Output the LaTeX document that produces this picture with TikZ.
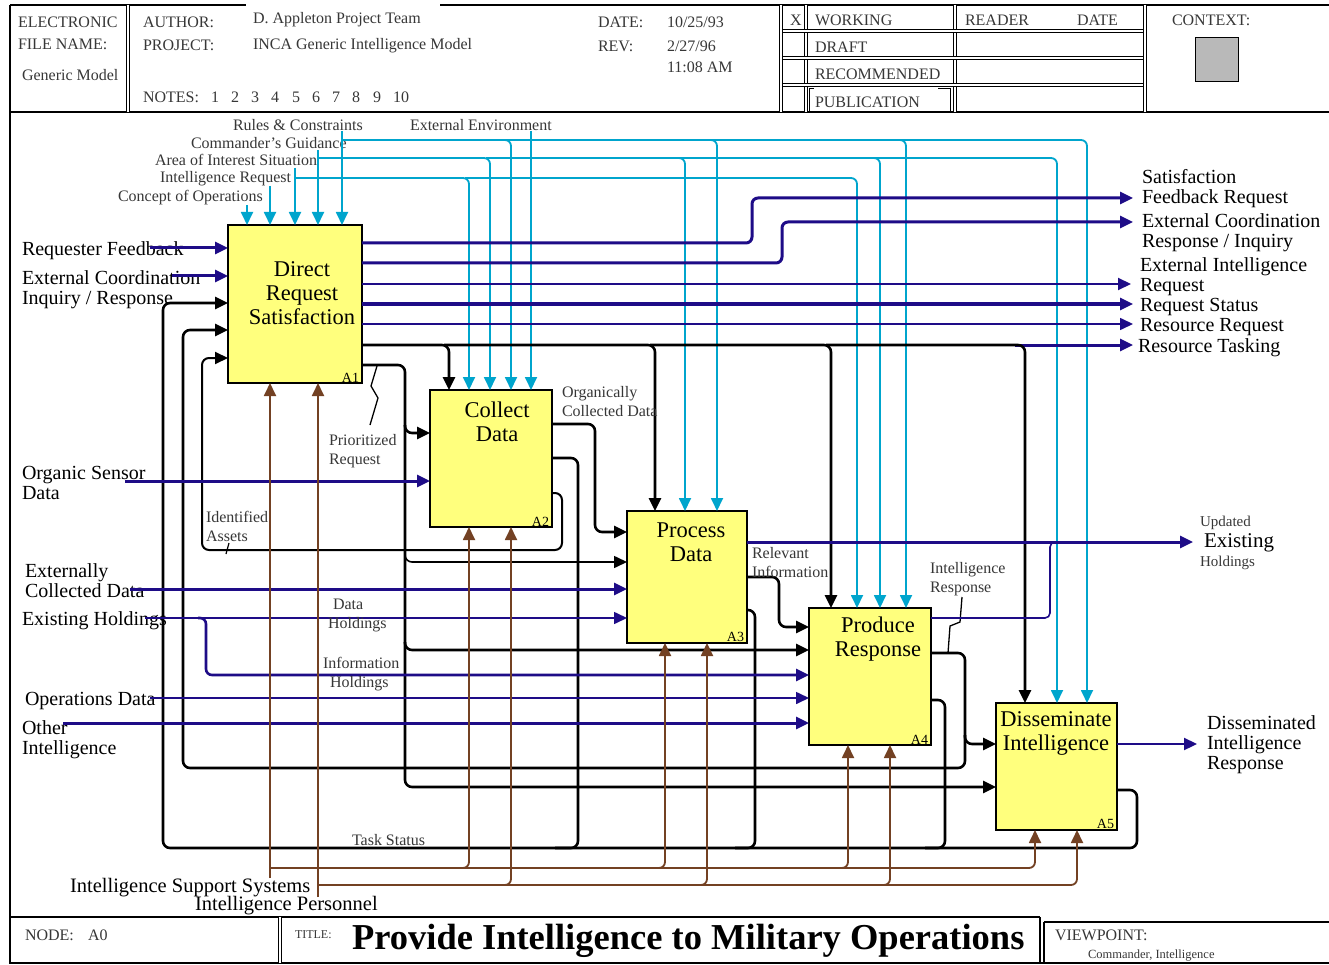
\documentclass[tikz,border=0pt]{standalone}
\usepackage{fontspec}
\setmainfont{Liberation Serif}
\usetikzlibrary{arrows.meta}
\definecolor{navyc}{RGB}{30,12,135}
\definecolor{cyanc}{RGB}{0,165,205}
\definecolor{brownc}{RGB}{115,65,35}
\definecolor{boxy}{RGB}{255,255,125}
\definecolor{lblc}{RGB}{55,55,55}
\newcommand\fBig{\fontsize{22.5}{24}\selectfont}
\newcommand\fMid{\fontsize{20}{20}\selectfont}
\newcommand\fSm{\fontsize{16}{19}\selectfont}
\newcommand\fHd{\fontsize{16}{18}\selectfont}
\begin{document}
\begin{tikzpicture}[x=1pt,y=-1pt,
 every node/.style={inner sep=0pt,outer sep=0pt},
 tip/.style={-{Triangle[length=13pt,width=12pt]}},
 nthick/.style={draw=navyc,line width=3pt,rounded corners=6pt},
 nthin/.style={draw=navyc,line width=1.6pt,rounded corners=6pt},
 blk/.style={draw=black,line width=2.6pt,rounded corners=7pt},
 blkthin/.style={draw=black,line width=1.6pt,rounded corners=7pt},
 cy/.style={draw=cyanc,line width=1.8pt,rounded corners=6pt},
 br/.style={draw=brownc,line width=1.8pt,rounded corners=6pt},
 fbox/.style={draw=black,line width=1.4pt,fill=boxy,anchor=north west},
 btxt/.style={font=\fBig,align=center},
 bid/.style={font=\fontsize{14}{14}\selectfont,anchor=south east},
 lbl/.style={font=\fMid,align=left,anchor=west},
 slbl/.style={font=\fSm,align=left,anchor=west,text=lblc},
 hd/.style={font=\fHd,anchor=west,text=lblc},
 frame/.style={draw=black,line width=1.2pt},
 dframe/.style={draw=black,line width=1pt,double,double distance=2pt},
]
\useasboundingbox (0,0) rectangle (1329,965);
\fill[white] (0,0) rectangle (1329,965);

% ---------- frame ----------
\draw[frame] (10,5) -- (246,5);
\draw[frame] (440,5) -- (1329,5);
\draw[frame] (10,5) -- (10,963) -- (1329,963);
\draw[frame] (10,112) -- (1329,112);
\draw[dframe] (128,5) -- (128,112);
\draw[dframe] (781,5) -- (781,112);
\draw[dframe] (806,5) -- (806,112);
\draw[dframe] (955,5) -- (955,112);
\draw[dframe] (1145,5) -- (1145,112);
\foreach \yy in {31,58,85} \draw[dframe] (783,\yy) -- (1143,\yy);
\draw[fill=gray!55,line width=1pt] (1195,38) rectangle (1238,82);

\node[hd] (hEl) at (18,22) {ELECTRONIC};
\node[hd] (hFn) at (18,44) {FILE NAME:};
\node[hd] (hGm) at (22,75) {Generic Model};
\node[hd] (hAu) at (143,22) {AUTHOR:};
\node[hd] (hPr) at (143,45) {PROJECT:};
\node[hd] (hAuV) at (253,20) {D. Appleton Project Team};
\node[hd] (hPrV) at (253,46) {INCA Generic Intelligence Model};
\node[hd] (hDa) at (598,22) {DATE:};
\node[hd] (hDaV) at (667,22) {10/25/93};
\node[hd] (hRe) at (598,46) {REV:};
\node[hd] (hReV) at (667,46) {2/27/96};
\node[hd] (hTi) at (667,67) {11:08 AM};
\node[hd] (hNo) at (143,97) {NOTES:};
\foreach \n/\xx in {1/211,2/231,3/251,4/271,5/292,6/312,7/332,8/352,9/373,10/393}
  \node[hd] (hn\n) at (\xx,97) {\n};
\node[hd] (hX) at (790,20) {X};
\node[hd] (hW) at (815,20) {WORKING};
\node[hd] (hD) at (815,47) {DRAFT};
\node[hd] (hR) at (815,74) {RECOMMENDED};
\node[hd] (hP) at (815,102) {PUBLICATION};
\draw[line width=1pt] (814,89) -- (809,89) -- (809,111);
\draw[line width=1pt] (938,89) -- (950,89) -- (950,111);
\node[hd] (hRd) at (965,20) {READER};
\node[hd] (hRdD) at (1077,20) {DATE};
\node[hd] (hCx) at (1172,20) {CONTEXT:};

% ---------- footer ----------
\draw[frame] (10,917) -- (1040,917);
\draw[frame] (1044,922) -- (1329,922);
\draw[dframe] (280,917) -- (280,963);
\draw[frame] (1040,917) -- (1040,963);
\draw[frame] (1044,922) -- (1044,963);
\node[hd] (fNo) at (25,935) {NODE:};
\node[hd] (fA0) at (88,935) {A0};
\node[hd,font=\fontsize{12}{12}\selectfont] (fTi) at (295,935) {TITLE:};
\node[anchor=west,font=\fontsize{36.5}{36}\selectfont\bfseries] (fTitle) at (352,941) {Provide Intelligence to Military Operations};
\node[hd] (fVp) at (1055,935) {VIEWPOINT:};
\node[hd,font=\fontsize{12.5}{12.5}\selectfont] (fVpV) at (1088,956) {Commander, Intelligence};

% ---------- boxes ----------
\node[fbox,minimum width=134pt,minimum height=158pt] (A1) at (228,225) {};
\node[fbox,minimum width=122pt,minimum height=137pt] (A2) at (430,390) {};
\node[fbox,minimum width=120pt,minimum height=132pt] (A3) at (627,511) {};
\node[fbox,minimum width=122pt,minimum height=137pt] (A4) at (809,608) {};
\node[fbox,minimum width=121pt,minimum height=127pt] (A5) at (996,703) {};
\node[btxt] (A1t) at (302,293) {Direct\\Request\\Satisfaction};
\node[btxt] (A2t) at (497,422) {Collect\\Data};
\node[btxt] (A3t) at (691,542) {Process\\Data};
\node[btxt] (A4t) at (878,639) {Produce\\Response};
\node[btxt] (A5t) at (1056,733) {Disseminate\\Intelligence};
\foreach \b in {1,...,5}
  \node[bid] (id\b) at ([xshift=-3pt,yshift=1pt]A\b.south east) {A\b};

% ---------- controls (cyan) ----------
\node[slbl] (lRC) at (233,125) {Rules \& Constraints};
\node[slbl] (lCG) at (191,143) {Commander's Guidance};
\node[slbl] (lAI) at (155,160) {Area of Interest Situation};
\node[slbl] (lIR) at (160,179) {Intelligence Request};
\node[slbl] (lCO) at (118,198) {Concept of Operations};
\node[slbl] (lEE) at (410,125) {External Environment};

\draw[cy,tip] (247,205) -- (247,0 |- A1.north);
\draw[cy,tip] (270,186) -- (270,0 |- A1.north);
\draw[cy,tip] (295,168) -- (295,0 |- A1.north);
\draw[cy,tip] (318,150) -- (318,0 |- A1.north);
\draw[cy,tip] (342,131) -- (342,0 |- A1.north);
\draw[cy,tip] (531,131) -- (531,0 |- A2.north);
% Area of interest branch
\draw[cy,tip] (295,178) -- (469,178) -- (469,0 |- A2.north);
\draw[cy,tip] (465,178) -- (857,178) -- (857,0 |- A4.north);
% Commander's guidance branch
\draw[cy,tip] (318,158) -- (490,158) -- (490,0 |- A2.north);
\draw[cy,tip] (486,158) -- (685,158) -- (685,0 |- A3.north);
\draw[cy,tip] (680,158) -- (880,158) -- (880,0 |- A4.north);
\draw[cy,tip] (875,158) -- (1057,158) -- (1057,0 |- A5.north);
% Rules branch
\draw[cy,tip] (342,140) -- (511,140) -- (511,0 |- A2.north);
\draw[cy,tip] (506,140) -- (717,140) -- (717,0 |- A3.north);
\draw[cy,tip] (712,140) -- (906,140) -- (906,0 |- A4.north);
\draw[cy,tip] (900,140) -- (1087,140) -- (1087,0 |- A5.north);

% ---------- A1 outputs ----------
\draw[nthick,tip] (A1.east |- 0,243) -- (752,243) -- (752,198) -- (1133,198);
\draw[nthick,tip] (A1.east |- 0,263) -- (782,263) -- (782,222) -- (1133,222);
\draw[nthin,line width=2pt,tip] (A1.east |- 0,284) -- (1131,284);
\draw[nthick,tip] (A1.east |- 0,304) -- (1133,304);
\draw[nthin,tip] (A1.east |- 0,324) -- (1133,324);
\draw[nthick,tip] (1015,345) -- (1133,345);
\draw[blk,tip] (A1.east |- 0,345) -- (449,345) -- (449,0 |- A2.north);
\draw[blk,tip] (444,345) -- (655,345) -- (655,0 |- A3.north);
\draw[blk,tip] (650,345) -- (831,345) -- (831,0 |- A4.north);
\draw[blk,tip] (826,345) -- (1025,345) -- (1025,0 |- A5.north);

\node[lbl] (oSF) at (1142,189) {Satisfaction\\Feedback Request};
\node[lbl] (oEC) at (1142,233) {External Coordination\\Response / Inquiry};
\node[lbl] (oEI) at (1140,277) {External Intelligence\\Request};
\node[lbl] (oRS) at (1140,307) {Request Status};
\node[lbl] (oRR) at (1140,327) {Resource Request};
\node[lbl] (oRT) at (1138,348) {Resource Tasking};

% ---------- A1 inputs ----------
\node[lbl] (iRF) at (22,251) {Requester Feedback};
\node[lbl] (iEC) at (22,290) {External Coordination\\Inquiry / Response};
\draw[nthick,tip] (150,248) -- (A1.west |- 0,248);
\draw[nthick,tip] (172,276) -- (A1.west |- 0,276);

% Task status loop (A2..A5 -> A1)
\draw[blk,tip] (A5.east |- 0,790) -- (1137,790) -- (1137,848) -- (163,848) -- (163,303) -- (A1.west |- 0,303);
\draw[blk] (A2.east |- 0,458) -- (578,458) -- (578,848) -- (555,848);
\draw[blk] (A3.east |- 0,610) -- (755,610) -- (755,848) -- (735,848);
\draw[blk] (A4.east |- 0,700) -- (945,700) -- (945,848) -- (925,848);
\node[slbl] (lTS) at (352,840) {Task Status};

% Intelligence response loop (A4 -> A5, A1)
\draw[blk,tip] (A4.east |- 0,653) -- (965,653) -- (965,768) -- (183,768) -- (183,330) -- (A1.west |- 0,330);
\draw[blk,tip] (965,735) -- (965,744) -- (A5.west |- 0,744);
\node[slbl] (lIRs) at (930,579) {Intelligence\\Response};
\draw[line width=1.3pt] (962,597) -- (960,622) -- (950,626) -- (948,653);

% Identified assets loop (A2 -> A1)
\draw[blkthin,line width=2pt,tip] (A2.east |- 0,493) -- (562,493) -- (562,550) -- (202,550) -- (202,358) -- (A1.west |- 0,358);
\node[slbl] (lIA) at (206,526) {Identified\\Assets};
\draw[line width=1.2pt] (229,543) -- (226,554);

% Prioritized request (A1 -> A2..A5)
\draw[blk,tip] (A1.east |- 0,365) -- (405,365) -- (405,787) -- (A5.west |- 0,787);
\draw[blk,tip] (405,425) -- (405,433) -- (A2.west |- 0,433);
\draw[blkthin,tip] (405,554) -- (405,562) -- (A3.west |- 0,562);
\draw[blk,tip] (405,642) -- (405,650) -- (A4.west |- 0,650);
\node[slbl] (lPR) at (329,451) {Prioritized\\Request};
\draw[line width=1.3pt] (377,366) -- (371,386) -- (378,398) -- (370,425);

% Organically collected data (A2 -> A3)
\draw[blk,tip] (A2.east |- 0,424) -- (595,424) -- (595,532) -- (A3.west |- 0,532);
\node[slbl] (lOC) at (562,402) {Organically\\Collected Data};

% A3 outputs
\draw[nthick,tip] (A3.east |- 0,542) -- (1193,542);
\draw[nthin,rounded corners=5pt] (A4.east |- 0,618) -- (1050,618) -- (1050,542) -- (1062,542);
\node[anchor=west,font=\fontsize{15}{15}\selectfont,text=lblc] (oUp) at (1200,523) {Updated};
\node[anchor=west,font=\fontsize{21}{21}\selectfont] (oEx) at (1204,543) {Existing};
\node[anchor=west,font=\fontsize{15}{15}\selectfont,text=lblc] (oHo) at (1200,563) {Holdings};
\draw[blk,tip] (A3.east |- 0,577) -- (779,577) -- (779,627) -- (A4.west |- 0,627);
\node[slbl] (lRI) at (752,563) {Relevant\\Information};

% A5 output
\draw[nthin,line width=2.2pt,tip] (A5.east |- 0,744) -- (1197,744);
\node[lbl] (oDI) at (1207,745) {Disseminated\\Intelligence\\Response};

% ---------- external inputs ----------
\node[lbl] (iOS) at (22,483) {Organic Sensor\\Data};
\draw[nthick,tip] (125,481) -- (A2.west |- 0,481);
\node[lbl] (iXC) at (25,581) {Externally\\Collected Data};
\draw[nthick,tip] (130,589) -- (A3.west |- 0,589);
\node[lbl] (iEH) at (22,621) {Existing Holdings};
\draw[nthin,tip] (145,618) -- (A3.west |- 0,618);
\draw[nthick,line width=2.6pt,tip] (198,618) -- (206,618) -- (206,675) -- (A4.west |- 0,675);
\node[slbl] (lDH) at (328,615) {\hspace*{5pt}Data\\Holdings};
\node[slbl] (lIH) at (323,674) {Information\\\hspace*{7pt}Holdings};
\node[lbl] (iOD) at (25,701) {Operations Data};
\draw[nthin,tip] (150,698) -- (A4.west |- 0,698);
\node[lbl] (iOI) at (22,740) {Other\\Intelligence};
\draw[nthick,tip] (63,723) -- (A4.west |- 0,723);

% ---------- mechanisms (brown) ----------
\draw[br,tip] (270,878) -- (270,0 |- A1.south);
\draw[br,tip] (318,897) -- (318,0 |- A1.south);
\draw[br,tip] (270,868) -- (469,868) -- (469,0 |- A2.south);
\draw[br,tip] (464,868) -- (665,868) -- (665,0 |- A3.south);
\draw[br,tip] (660,868) -- (848,868) -- (848,0 |- A4.south);
\draw[br,tip] (843,868) -- (1035,868) -- (1035,0 |- A5.south);
\draw[br,tip] (318,885) -- (511,885) -- (511,0 |- A2.south);
\draw[br,tip] (506,885) -- (707,885) -- (707,0 |- A3.south);
\draw[br,tip] (702,885) -- (890,885) -- (890,0 |- A4.south);
\draw[br,tip] (885,885) -- (1077,885) -- (1077,0 |- A5.south);
\node[lbl,font=\fontsize{20.5}{20}\selectfont] (mIS) at (70,888) {Intelligence Support Systems};
\node[lbl,font=\fontsize{20.5}{20}\selectfont] (mIP) at (195,906) {Intelligence Personnel};
\end{tikzpicture}
\end{document}
